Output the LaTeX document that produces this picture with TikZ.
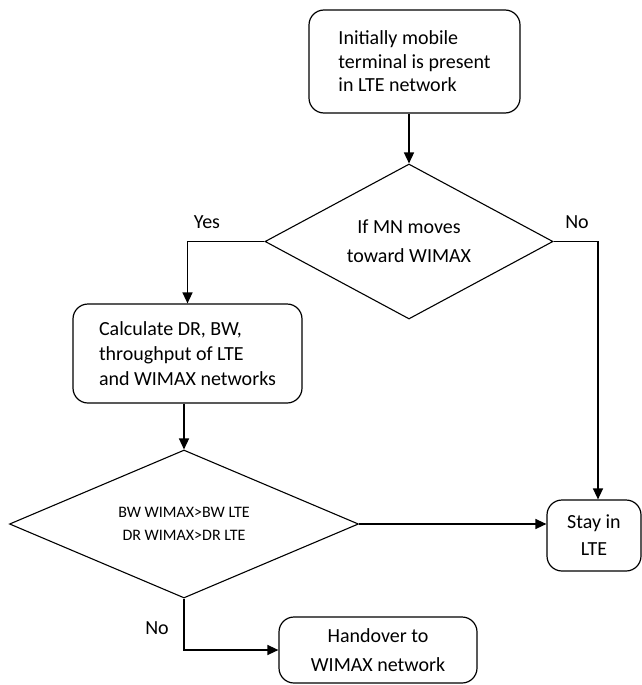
\documentclass[tikz,border=0pt]{standalone}
\usepackage{fontspec}
\setmainfont{Carlito}
\usetikzlibrary{shapes.geometric,arrows.meta}
\begin{document}
\begin{tikzpicture}[x=1pt,y=-1pt,
  line width=1.2pt,
  every node/.style={inner sep=0pt},
  rbox/.style={draw,rounded corners=15pt,line width=1.2pt},
  dia/.style={draw,diamond,line width=1.1pt,inner sep=0pt},
  conn/.style={line width=1.4pt,-{Triangle[length=11pt,width=10pt]}},
  lbl/.style={font=\fontsize{20}{24}\selectfont}]
\useasboundingbox (0,0) rectangle (642,685);
\node[rbox,minimum width=211pt,minimum height=103pt,align=left,
  font=\fontsize{20}{23.5}\selectfont] (b1) at (414.5,61.5)
  {Initially mobile\\terminal is present\\in LTE network};
\node[dia,minimum width=288pt,minimum height=155pt,aspect=1.86,align=center,
  font=\fontsize{20}{29}\selectfont] (d1) at (409,241.5)
  {If MN moves\\toward WIMAX};
\node[rbox,minimum width=229pt,minimum height=99pt,align=left,
  font=\fontsize{20}{25}\selectfont] (b2) at (187.5,353.5)
  {Calculate DR, BW,\\throughput of LTE\\and WIMAX networks};
\node[dia,minimum width=349pt,minimum height=148pt,aspect=2.36,align=center,
  font=\fontsize{16}{23}\selectfont] (d2) at (184,524)
  {BW WIMAX>BW LTE\\DR WIMAX>DR LTE};
\node[rbox,minimum width=94pt,minimum height=71pt,align=center,
  font=\fontsize{20}{27}\selectfont] (stay) at (594,535.5)
  {Stay in\\LTE};
\node[rbox,minimum width=198pt,minimum height=66pt,align=center,
  font=\fontsize{20}{29}\selectfont] (ho) at (378,650)
  {Handover to\\WIMAX network};
\node[lbl] (lyes) at (207,222) {Yes};
\node[lbl] (lno1) at (577,222) {No};
\node[lbl] (lno2) at (157,628) {No};
\draw[conn] (d1.north |- b1.south) -- (d1.north);
\draw[conn] (d1.west) -| (b2.north);
\draw[conn] (d1.east) -| ([xshift=4pt]stay.north);
\draw[conn] (d2.north |- b2.south) -- (d2.north);
\draw[conn] (d2.east) -- (d2.east -| stay.west);
\draw[conn] (d2.south) |- (ho.west);
\end{tikzpicture}
\end{document}
